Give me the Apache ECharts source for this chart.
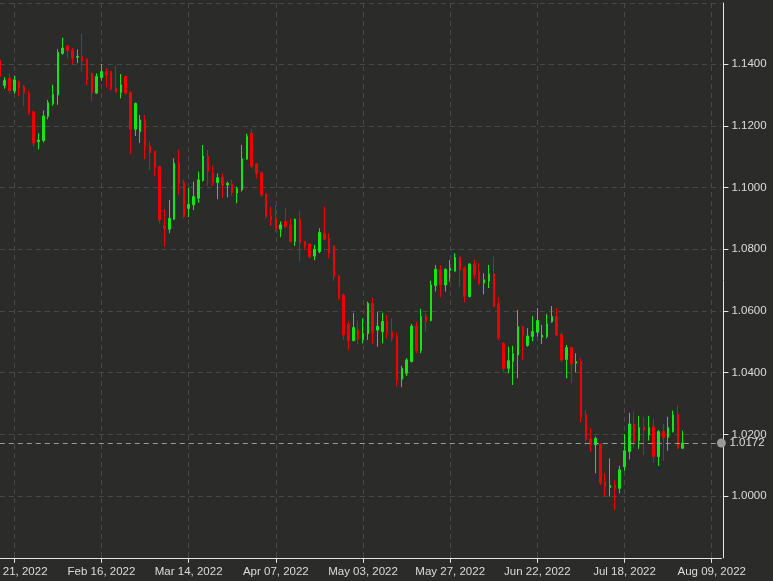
<!DOCTYPE html>
<html>
<head>
<meta charset="utf-8">
<script src="https://cdn.jsdelivr.net/npm/echarts@6/dist/echarts.min.js"></script>
<style>
  html, body { margin: 0; padding: 0; background: #2b2c2a; }
  #chart { width: 773px; height: 581px; }
</style>
</head>
<body>
<div id="chart"></div>
<script>
// Daily candles (EUR/USD style), first candle = Jan 18, 2022
const opens = [
  1.1414,1.1331,1.1354,1.1313,1.1344,1.1327,1.1306,1.1246,1.1148,1.1152,
  1.1230,1.1271,1.1300,1.1435,1.1459,1.1444,1.1422,1.1425,1.1416,1.1370,
  1.1306,1.1356,1.1376,1.1376,1.1321,1.1308,1.1360,1.1309,1.1189,1.1181,
  1.1219,1.1135,1.1117,1.1068,1.0876,1.0865,1.0897,1.1079,1.1016,1.0932,
  1.0944,1.0965,1.1023,1.1102,1.1046,1.1016,1.1032,1.1008,1.1012,1.0982,
  1.0992,1.1092,1.1176,1.1077,1.1048,1.0979,1.0908,1.0900,1.0865,1.0890,
  1.0879,1.0825,1.0897,1.0825,1.0817,1.0778,1.0792,1.0852,1.0836,1.0811,
  1.0713,1.0652,1.0558,1.0504,1.0538,1.0508,1.0526,1.0625,1.0538,1.0533,
  1.0566,1.0533,1.0517,1.0379,1.0398,1.0436,1.0551,1.0471,1.0582,1.0569,
  1.0682,1.0735,1.0684,1.0731,1.0729,1.0774,1.0738,1.0647,1.0752,1.0728,
  1.0690,1.0697,1.0720,1.0623,1.0495,1.0414,1.0436,1.0457,1.0549,1.0488,
  1.0517,1.0531,1.0515,1.0517,1.0565,1.0582,1.0522,1.0443,1.0481,1.0430,
  1.0436,1.0263,1.0185,1.0166,1.0169,1.0047,1.0028,1.0036,1.0025,1.0095,
  1.0144,1.0234,1.0180,1.0222,1.0198,1.0225,1.0128,1.0209,1.0190,1.0209,
  1.0266,1.0155
];
const closes = [
  1.1360,1.1347,1.1314,1.1349,1.1322,1.1306,1.1241,1.1144,1.1154,1.1232,
  1.1275,1.1302,1.1438,1.1452,1.1444,1.1419,1.1425,1.1410,1.1349,1.1308,
  1.1360,1.1376,1.1365,1.1319,1.1310,1.1333,1.1306,1.1189,1.1273,1.1219,
  1.1133,1.1113,1.1066,1.0895,1.0867,1.0900,1.1079,1.1014,1.0906,1.0945,
  1.0971,1.1025,1.1102,1.1052,1.1016,1.1032,1.1008,1.1014,1.0984,1.0997,
  1.1093,1.1165,1.1068,1.1046,1.0976,1.0906,1.0895,1.0863,1.0879,1.0873,
  1.0825,1.0897,1.0822,1.0809,1.0776,1.0800,1.0854,1.0832,1.0787,1.0711,
  1.0641,1.0522,1.0504,1.0546,1.0508,1.0528,1.0625,1.0528,1.0551,1.0566,
  1.0530,1.0511,1.0376,1.0414,1.0441,1.0551,1.0471,1.0582,1.0566,1.0684,
  1.0735,1.0684,1.0735,1.0738,1.0774,1.0733,1.0647,1.0752,1.0717,1.0688,
  1.0701,1.0720,1.0614,1.0515,1.0414,1.0439,1.0461,1.0549,1.0519,1.0519,
  1.0533,1.0569,1.0522,1.0558,1.0582,1.0522,1.0441,1.0481,1.0428,1.0436,
  1.0255,1.0182,1.0166,1.0187,1.0043,1.0031,1.0035,1.0025,1.0085,1.0147,
  1.0234,1.0176,1.0222,1.0214,1.0223,1.0128,1.0209,1.0190,1.0222,1.0263,
  1.0155,1.0172
];
const lows = [
  1.1354,1.1320,1.1306,1.1304,1.1295,1.1265,1.1235,1.1133,1.1124,1.1146,
  1.1221,1.1265,1.1268,1.1430,1.1419,1.1400,1.1403,1.1376,1.1331,1.1279,
  1.1304,1.1346,1.1325,1.1314,1.1306,1.1289,1.1301,1.1109,1.1167,1.1144,
  1.1092,1.1057,1.1036,1.0884,1.0808,1.0852,1.0895,1.0976,1.0900,1.0904,
  1.0927,1.0951,1.1019,1.1005,1.1005,1.0962,1.0965,1.0968,1.0973,1.0949,
  1.0987,1.1090,1.1063,1.1030,1.0970,1.0900,1.0876,1.0857,1.0839,1.0870,
  1.0822,1.0811,1.0760,1.0798,1.0770,1.0765,1.0787,1.0830,1.0771,1.0698,
  1.0636,1.0506,1.0474,1.0501,1.0492,1.0495,1.0506,1.0493,1.0484,1.0495,
  1.0511,1.0501,1.0355,1.0353,1.0389,1.0433,1.0463,1.0463,1.0533,1.0566,
  1.0663,1.0644,1.0663,1.0695,1.0728,1.0679,1.0627,1.0644,1.0706,1.0684,
  1.0654,1.0674,1.0612,1.0506,1.0400,1.0398,1.0360,1.0382,1.0441,1.0484,
  1.0501,1.0517,1.0493,1.0511,1.0562,1.0519,1.0436,1.0382,1.0366,1.0400,
  1.0238,1.0166,1.0144,1.0074,1.0036,1.0000,0.9998,0.9955,1.0009,1.0082,
  1.0119,1.0158,1.0152,1.0133,1.0180,1.0108,1.0098,1.0115,1.0147,1.0206,
  1.0152,1.0152
];
const highs = [
  1.1419,1.1358,1.1370,1.1362,1.1346,1.1332,1.1313,1.1248,1.1176,1.1250,
  1.1284,1.1333,1.1448,1.1486,1.1462,1.1452,1.1448,1.1498,1.1419,1.1373,
  1.1370,1.1400,1.1387,1.1379,1.1395,1.1368,1.1364,1.1311,1.1275,1.1235,
  1.1235,1.1149,1.1120,1.1070,1.0930,1.0960,1.1095,1.1122,1.1025,1.0998,
  1.1019,1.1052,1.1138,1.1122,1.1070,1.1046,1.1046,1.1019,1.1025,1.1003,
  1.1138,1.1174,1.1189,1.1079,1.1052,1.0981,1.0938,1.0944,1.0890,1.0933,
  1.0900,1.0900,1.0925,1.0827,1.0819,1.0814,1.0868,1.0938,1.0852,1.0814,
  1.0717,1.0657,1.0566,1.0593,1.0569,1.0576,1.0630,1.0643,1.0598,1.0593,
  1.0587,1.0576,1.0530,1.0422,1.0447,1.0558,1.0566,1.0607,1.0593,1.0698,
  1.0749,1.0749,1.0738,1.0765,1.0787,1.0776,1.0744,1.0755,1.0765,1.0755,
  1.0722,1.0749,1.0776,1.0644,1.0497,1.0484,1.0487,1.0603,1.0551,1.0544,
  1.0584,1.0609,1.0555,1.0590,1.0616,1.0609,1.0530,1.0490,1.0484,1.0463,
  1.0447,1.0279,1.0222,1.0193,1.0171,1.0074,1.0122,1.0052,1.0098,1.0201,
  1.0270,1.0274,1.0260,1.0257,1.0260,1.0252,1.0214,1.0234,1.0257,1.0277,
  1.0295,1.0212
];
const tickLabels = ['Jan 21, 2022','Feb 16, 2022','Mar 14, 2022','Apr 07, 2022','May 03, 2022',
                    'May 27, 2022','Jun 22, 2022','Jul 18, 2022','Aug 09, 2022'];
const firstTickIndex = 3;   // category index of the first labelled tick
const tickStep = 18;        // trading days between labelled ticks
const categoryCount = 150;  // slots on the axis (data + empty right margin)

// weekday categories starting Jan 18, 2022
const categories = [];
{
  const d = new Date(Date.UTC(2022, 0, 18));
  while (categories.length < categoryCount) {
    const wd = d.getUTCDay();
    if (wd !== 0 && wd !== 6) categories.push(d.toISOString().slice(0, 10));
    d.setUTCDate(d.getUTCDate() + 1);
  }
}
const candles = opens.map((o, i) => [o, closes[i], lows[i], highs[i]]);
const lastClose = closes[closes.length - 1];

const isTick = (i) => i >= firstTickIndex && (i - firstTickIndex) % tickStep === 0;
const FONT = "'Liberation Sans', Arial, sans-serif";
const FS = 11.5;
const gridColor = '#484848';

const chart = echarts.init(document.getElementById('chart'), null, { renderer: 'canvas' });
chart.setOption({
  backgroundColor: '#2b2c2a',
  animation: false,
  grid: { left: -0.23, right: 51.6, top: 3, bottom: 23.2, containLabel: false, outerBoundsMode: 'none' },
  xAxis: {
    type: 'category',
    data: categories,
    boundaryGap: false,
    axisLine: { show: true, lineStyle: { color: '#e6e6e6', width: 1 } },
    axisTick: { show: true, interval: (i) => isTick(i), length: 5, lineStyle: { color: '#e6e6e6' } },
    axisLabel: {
      show: true, interval: (i) => isTick(i), margin: 8, hideOverlap: false,
      color: '#dcdcdc', fontSize: FS, fontFamily: FONT,
      formatter: (v, i) => tickLabels[(i - firstTickIndex) / tickStep] || ''
    },
    splitLine: { show: true, interval: (i) => isTick(i), lineStyle: { color: gridColor, type: [5, 4], width: 1 } }
  },
  yAxis: {
    type: 'value',
    position: 'right',
    offset: 2,
    min: 0.98,
    max: 1.1598,
    interval: 0.02,
    axisLine: { show: true, lineStyle: { color: '#e6e6e6', width: 1 } },
    axisTick: { show: true, length: 5, lineStyle: { color: '#e6e6e6' } },
    axisLabel: {
      margin: 8, color: '#dcdcdc', fontSize: FS, fontFamily: FONT, hideOverlap: false,
      formatter: (v) => v.toFixed(4), showMinLabel: false, showMaxLabel: false
    },
    splitLine: { show: true, lineStyle: { color: gridColor, type: [5, 4], width: 1 } }
  },
  series: [{
    type: 'candlestick',
    data: candles,
    barWidth: 2,
    itemStyle: {
      color: '#14e614', color0: '#f20000',
      borderColor: '#14e614', borderColor0: '#f20000', borderWidth: 1
    },
    markLine: {
      silent: true,
      precision: 4,
      symbol: ['none', 'circle'],
      symbolSize: 9,
      animation: false,
      lineStyle: { color: '#9a9a9a', type: [5, 4], width: 1 },
      label: {
        show: true, position: 'end', distance: 8,
        color: '#dcdcdc', fontSize: FS, fontFamily: FONT,
        formatter: () => lastClose.toFixed(4)
      },
      data: [{ yAxis: lastClose }]
    }
  }]
});
</script>
</body>
</html>
